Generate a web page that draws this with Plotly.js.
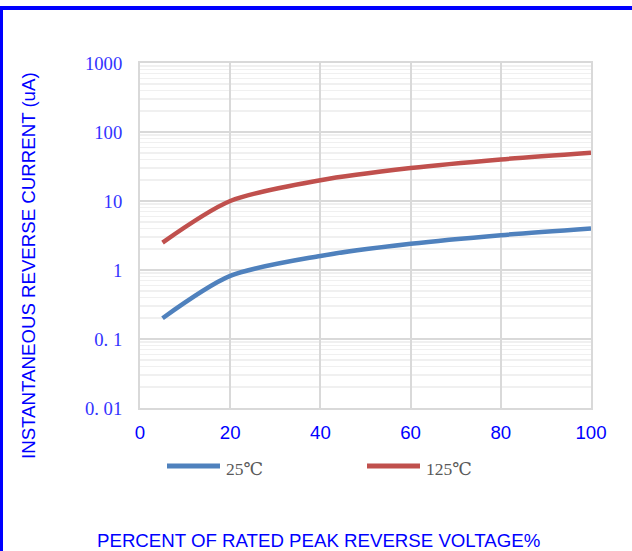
<!DOCTYPE html>
<html>
<head>
<meta charset="utf-8">
<script src="https://cdn.plot.ly/plotly-3.0.1.min.js"></script>
<style>
  html, body { margin: 0; padding: 0; background: #fff; }
  #wrap { position: relative; width: 632px; height: 551px; overflow: hidden; }
  #chart { position: absolute; left: 0; top: 0; width: 632px; height: 551px; }
  #frame { position: absolute; left: 0; top: 6px; width: 640px; height: 560px;
           border-top: 4px solid #0000ff; border-left: 3px solid #0000ff; pointer-events: none; }
</style>
</head>
<body>
<div id="wrap">
  <div id="chart"></div>
  <div id="frame"></div>
</div>
<script>
// Data
const voltagePct = [5, 20, 40, 60, 80, 100];
const current25 = [0.2, 0.82, 1.6, 2.4, 3.2, 4.0];
const current125 = [2.5, 10, 20, 30, 40, 50];
const seriesNames = ['25\u2103', '125\u2103'];
const seriesColors = ['#4f81bd', '#c0504d'];
const xTickVals = [0, 20, 40, 60, 80, 100];
const yTickVals = [0.01, 0.1, 1, 10, 100, 1000];
const yTickText = ['0. 01', '0. 1', '1', '10', '100', '1000'];
const xTitle = 'PERCENT OF RATED PEAK REVERSE VOLTAGE%';
const yTitle = 'INSTANTANEOUS REVERSE CURRENT (uA)';

const traces = [
  { x: voltagePct, y: current25, name: seriesNames[0], type: 'scatter', mode: 'lines',
    line: { color: seriesColors[0], width: 4.5, shape: 'spline', smoothing: 0.8 } },
  { x: voltagePct, y: current125, name: seriesNames[1], type: 'scatter', mode: 'lines',
    line: { color: seriesColors[1], width: 4.5, shape: 'spline', smoothing: 0.8 } }
];

const W = 632, H = 551;
const L = 140, R = 41, T = 63, B = 143;
const pw = W - L - R, ph = H - T - B;
function px(xPix) { return (xPix - L) / pw; }
function py(yPix) { return (H - B - yPix) / ph; }

const serif = '"Liberation Serif", "DejaVu Serif", serif';
const sans = '"Liberation Sans", Arial, sans-serif';

const legendItems = [
  { x0: 167, x1: 220, tx: 224, y: 466 },
  { x0: 367, x1: 420, tx: 424, y: 466 }
];
const shapes = [];
const annotations = [];
legendItems.forEach((it, i) => {
  shapes.push({ type: 'line', xref: 'paper', yref: 'paper',
    x0: px(it.x0), x1: px(it.x1), y0: py(it.y), y1: py(it.y),
    line: { color: seriesColors[i], width: 5 } });
  annotations.push({ xref: 'paper', yref: 'paper', x: px(it.tx), y: py(it.y + 3),
    xanchor: 'left', yanchor: 'middle', showarrow: false, text: seriesNames[i],
    font: { family: serif, size: 17.5, color: '#595959' } });
});
annotations.push({ xref: 'paper', yref: 'paper', x: px(318), y: py(540),
  xanchor: 'center', yanchor: 'middle', showarrow: false, text: xTitle,
  font: { family: sans, size: 18.67, color: '#0000ff' } });
annotations.push({ xref: 'paper', yref: 'paper', x: px(28), y: py(266),
  xanchor: 'center', yanchor: 'middle', showarrow: false, text: yTitle, textangle: -90,
  font: { family: sans, size: 18.67, color: '#0000ff' } });

const layout = {
  width: W, height: H,
  margin: { l: L, r: R, t: T, b: B, pad: 0 },
  paper_bgcolor: 'rgba(0,0,0,0)', plot_bgcolor: '#ffffff',
  showlegend: false,
  xaxis: {
    range: [0, 100], tickvals: xTickVals, ticks: '',
    showgrid: true, gridcolor: '#d9d9d9', gridwidth: 2,
    showline: true, linecolor: '#d9d9d9', linewidth: 2, mirror: true,
    zeroline: false, ticklabelstandoff: 7,
    tickfont: { family: sans, size: 18.67, color: '#0000ff' }
  },
  yaxis: {
    type: 'log', range: [-2, 3], tickvals: yTickVals, ticktext: yTickText, ticks: '',
    showgrid: true, gridcolor: '#d9d9d9', gridwidth: 1.5,
    minor: { dtick: 'D1', showgrid: true, gridcolor: '#f0f0f0', gridwidth: 1.5, ticks: '' },
    showline: true, linecolor: '#d9d9d9', linewidth: 2, mirror: true,
    zeroline: false, ticklabelstandoff: 12,
    tickfont: { family: serif, size: 18.67, color: '#3333ff' }
  },
  shapes: shapes,
  annotations: annotations
};

Plotly.newPlot('chart', traces, layout, { displayModeBar: false, staticPlot: true });
</script>
</body>
</html>
